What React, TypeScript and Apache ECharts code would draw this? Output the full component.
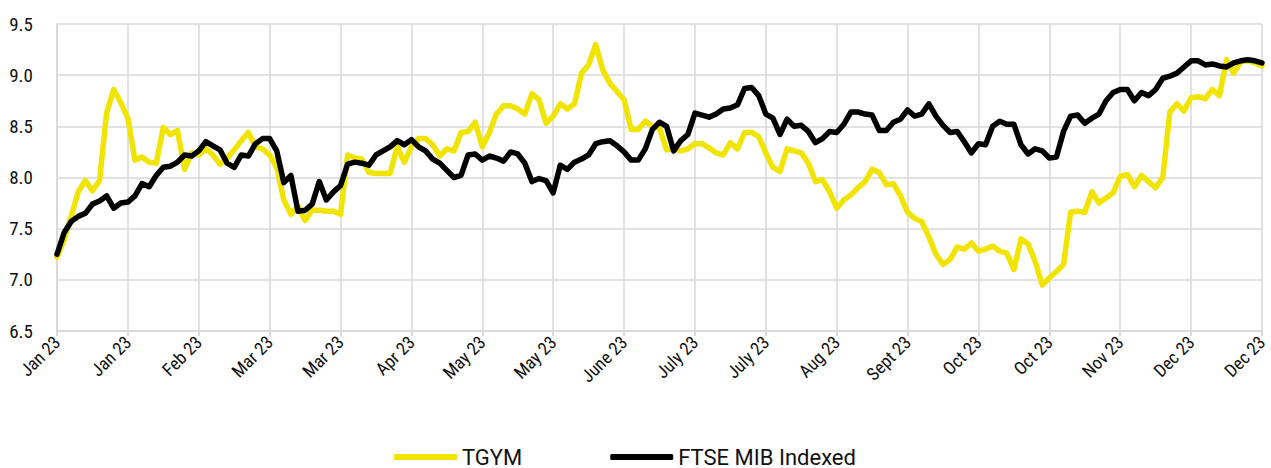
import React, { useEffect, useRef } from "react";
import * as echarts from "echarts";

const tickLabels = [
  "Jan 23", "Jan 23", "Feb 23", "Mar 23", "Mar 23", "Apr 23", "May 23", "May 23", "June 23",
  "July 23", "July 23", "Aug 23", "Sept 23", "Oct 23", "Oct 23", "Nov 23", "Dec 23", "Dec 23",
];

const pointsPerTick = 10;

const tgym = [
  7.22, 7.39, 7.62, 7.86, 7.97, 7.87, 7.97, 8.63, 8.86, 8.73,
  8.58, 8.17, 8.20, 8.15, 8.14, 8.49, 8.42, 8.46, 8.08, 8.24,
  8.22, 8.28, 8.22, 8.13, 8.19, 8.27, 8.36, 8.44, 8.30, 8.28,
  8.22, 8.10, 7.78, 7.64, 7.72, 7.58, 7.68, 7.68, 7.67, 7.67,
  7.64, 8.22, 8.19, 8.18, 8.05, 8.04, 8.04, 8.04, 8.30, 8.15,
  8.30, 8.38, 8.38, 8.32, 8.21, 8.28, 8.26, 8.44, 8.45, 8.54,
  8.30, 8.44, 8.62, 8.70, 8.70, 8.67, 8.62, 8.82, 8.76, 8.53,
  8.60, 8.72, 8.67, 8.72, 9.02, 9.10, 9.30, 9.05, 8.92, 8.84,
  8.76, 8.47, 8.47, 8.55, 8.50, 8.48, 8.27, 8.28, 8.26, 8.28,
  8.33, 8.33, 8.29, 8.24, 8.22, 8.34, 8.28, 8.44, 8.44, 8.40,
  8.24, 8.10, 8.06, 8.28, 8.26, 8.24, 8.14, 7.96, 7.98, 7.86,
  7.70, 7.78, 7.83, 7.90, 7.96, 8.08, 8.05, 7.93, 7.94, 7.82,
  7.66, 7.60, 7.57, 7.42, 7.25, 7.15, 7.20, 7.32, 7.30, 7.36,
  7.28, 7.30, 7.33, 7.28, 7.26, 7.10, 7.40, 7.35, 7.18, 6.95,
  7.02, 7.08, 7.15, 7.66, 7.67, 7.66, 7.86, 7.75, 7.80, 7.85,
  8.01, 8.03, 7.91, 8.02, 7.96, 7.90, 8.00, 8.64, 8.72, 8.65,
  8.78, 8.79, 8.77, 8.86, 8.80, 9.15, 9.02, 9.13, 9.14, 9.12,
  9.09,
];

const ftse = [
  7.25, 7.46, 7.57, 7.62, 7.65, 7.74, 7.77, 7.82, 7.70, 7.75,
  7.76, 7.82, 7.94, 7.91, 8.02, 8.10, 8.11, 8.15, 8.22, 8.21,
  8.26, 8.35, 8.31, 8.27, 8.14, 8.10, 8.22, 8.21, 8.33, 8.38,
  8.38, 8.26, 7.95, 8.02, 7.67, 7.68, 7.74, 7.96, 7.78, 7.86,
  7.92, 8.13, 8.15, 8.14, 8.12, 8.22, 8.26, 8.30, 8.36, 8.32,
  8.37, 8.30, 8.26, 8.18, 8.14, 8.07, 8.00, 8.02, 8.22, 8.23,
  8.17, 8.21, 8.19, 8.16, 8.25, 8.23, 8.14, 7.96, 7.99, 7.97,
  7.85, 8.12, 8.08, 8.15, 8.18, 8.22, 8.33, 8.35, 8.36, 8.31,
  8.25, 8.17, 8.17, 8.28, 8.47, 8.54, 8.50, 8.26, 8.36, 8.42,
  8.63, 8.61, 8.59, 8.62, 8.67, 8.68, 8.71, 8.87, 8.88, 8.80,
  8.62, 8.58, 8.42, 8.57, 8.50, 8.51, 8.45, 8.34, 8.38, 8.45,
  8.44, 8.52, 8.64, 8.64, 8.62, 8.61, 8.46, 8.46, 8.54, 8.57,
  8.66, 8.60, 8.62, 8.72, 8.60, 8.51, 8.44, 8.45, 8.35, 8.24,
  8.33, 8.32, 8.50, 8.55, 8.52, 8.52, 8.32, 8.23, 8.28, 8.26,
  8.19, 8.20, 8.45, 8.60, 8.61, 8.53, 8.58, 8.62, 8.75, 8.83,
  8.86, 8.86, 8.75, 8.83, 8.80, 8.86, 8.97, 8.99, 9.02, 9.08,
  9.14, 9.14, 9.10, 9.11, 9.09, 9.08, 9.12, 9.14, 9.15, 9.14,
  9.12,
];

const axisFont = "'Roboto Condensed', 'Liberation Sans Narrow', 'DejaVu Sans Condensed', Roboto, sans-serif";

export default function App() {
  const ref = useRef<HTMLDivElement>(null);
  useEffect(() => {
    if (!ref.current) return;
    const chart = echarts.init(ref.current, null, { renderer: "svg" });
    const maxX = (tickLabels.length - 1) * pointsPerTick;
    chart.setOption({
      animation: false,
      backgroundColor: "#ffffff",
      grid: { left: 57, right: 9, top: 24, bottom: 137, containLabel: false },
      legend: {
        top: 441,
        left: 389,
        icon: "roundRect",
        itemWidth: 63,
        itemHeight: 6,
        itemGap: 88,
        textStyle: { fontFamily: "Roboto, 'Liberation Sans', sans-serif", fontSize: 22, color: "#111" },
        data: [
          { name: "TGYM", icon: "roundRect" },
          { name: "FTSE MIB Indexed", icon: "roundRect" },
        ],
      },
      xAxis: {
        type: "value",
        min: 0,
        max: maxX,
        interval: pointsPerTick,
        axisLine: { show: true, lineStyle: { color: "#d9d9d9", width: 2 } },
        axisTick: { show: true, length: 5, lineStyle: { color: "#d9d9d9", width: 2 } },
        splitLine: { show: true, lineStyle: { color: "#d9d9d9", width: 1.5 } },
        axisLabel: {
          rotate: 45,
          margin: 8,
          showMinLabel: true,
          showMaxLabel: true,
          fontFamily: axisFont,
          fontSize: 18,
          color: "#111",
          formatter: (v: number) => tickLabels[Math.round(v / pointsPerTick)] ?? "",
        },
      },
      yAxis: {
        type: "value",
        min: 6.5,
        max: 9.5,
        interval: 0.5,
        axisLine: { show: true, lineStyle: { color: "#d9d9d9", width: 2 } },
        axisTick: { show: false },
        splitLine: { show: true, lineStyle: { color: "#d9d9d9", width: 1.5 } },
        axisLabel: {
          margin: 24,
          fontFamily: axisFont,
          fontSize: 19,
          color: "#111",
          formatter: (v: number) => v.toFixed(1),
        },
      },
      series: [
        {
          name: "TGYM",
          type: "line",
          showSymbol: false,
          symbol: "none",
          data: tgym.map((v, i) => [i, v]),
          lineStyle: { color: "#F0E400", width: 5.5, join: "round", cap: "round" },
          itemStyle: { color: "#F0E400" },
        },
        {
          name: "FTSE MIB Indexed",
          type: "line",
          showSymbol: false,
          symbol: "none",
          data: ftse.map((v, i) => [i, v]),
          lineStyle: { color: "#000000", width: 5.5, join: "round", cap: "round" },
          itemStyle: { color: "#000000" },
        },
      ],
    });
    return () => chart.dispose();
  }, []);
  return (
    <div
      ref={ref}
      style={{ position: "fixed", left: 0, top: 0, width: 1271, height: 468, background: "#fff" }}
    />
  );
}
